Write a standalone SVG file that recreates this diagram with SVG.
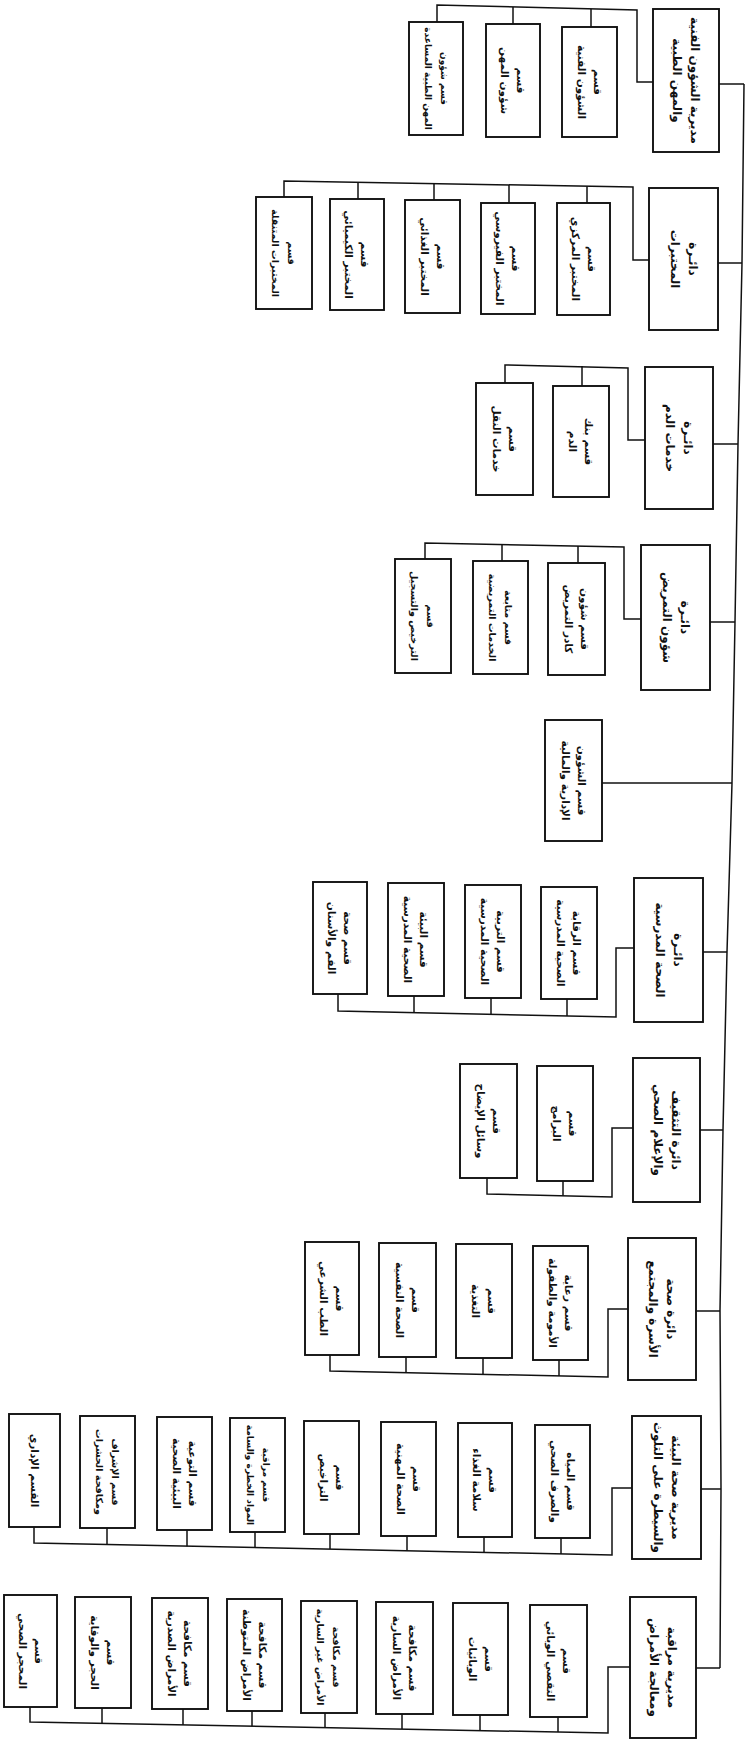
<svg xmlns="http://www.w3.org/2000/svg" width="747" height="1742" viewBox="0 0 747 1742">
<style>
.box{fill:#fff;stroke:#111;stroke-width:1.9}
.ln{fill:none;stroke:#111;stroke-width:1.5;stroke-linejoin:miter}
.t{font-family:"DejaVu Sans","Noto Sans",sans-serif;font-weight:bold;font-size:10.5px;text-anchor:middle;dominant-baseline:central;fill:#111}
.td{font-size:12px}
.s{font-size:9px}
.m{font-size:9.6px}
</style>
<rect width="747" height="1742" fill="#fff"/>
<g id="connectors">
<polyline class="ln" points="744,84 742,263 738,444 735,622 732,783 727,952 723,1130 720,1311 721,1489 720,1668"/>
<polyline class="ln" points="719,84 744,84"/>
<polyline class="ln" points="653,82 637,82 637,10 437,5 437,22"/>
<polyline class="ln" points="591,8.8 591,27"/>
<polyline class="ln" points="513,7 513,24"/>
<polyline class="ln" points="718,263 742,263"/>
<polyline class="ln" points="649,260 633,260 633,187 284,181 284,197"/>
<polyline class="ln" points="587,186.2 587,203"/>
<polyline class="ln" points="509,184.9 509,203"/>
<polyline class="ln" points="434,183.6 434,200"/>
<polyline class="ln" points="358,182.3 358,199"/>
<polyline class="ln" points="713,444 738,444"/>
<polyline class="ln" points="645,440 628,440 628,368 505,365 505,383"/>
<polyline class="ln" points="582,366.1 582,386"/>
<polyline class="ln" points="710,622 735,622"/>
<polyline class="ln" points="641,619 624,619 624,547 425,543 425,559"/>
<polyline class="ln" points="578,545.9 578,563"/>
<polyline class="ln" points="502,544.5 502,561"/>
<polyline class="ln" points="602,783 732,783"/>
<polyline class="ln" points="703,952 727,952"/>
<polyline class="ln" points="634,948 616,948 616,1017 338,1011 338,994"/>
<polyline class="ln" points="567,1015.9 567,999"/>
<polyline class="ln" points="491,1014.3 491,998"/>
<polyline class="ln" points="414,1012.6 414,996"/>
<polyline class="ln" points="700,1130 723,1130"/>
<polyline class="ln" points="633,1128 612,1128 612,1197 487,1194 487,1178"/>
<polyline class="ln" points="563,1195.8 563,1181"/>
<polyline class="ln" points="696,1311 720,1311"/>
<polyline class="ln" points="628,1309 608,1309 608,1377 330,1371 330,1355"/>
<polyline class="ln" points="559,1375.9 559,1360"/>
<polyline class="ln" points="483,1374.3 483,1358"/>
<polyline class="ln" points="406,1372.6 406,1357"/>
<polyline class="ln" points="701,1489 721,1489"/>
<polyline class="ln" points="632,1488 612,1488 612,1555 34,1543 34,1527"/>
<polyline class="ln" points="561,1553.9 561,1538"/>
<polyline class="ln" points="484,1552.3 484,1537"/>
<polyline class="ln" points="407,1550.7 407,1536"/>
<polyline class="ln" points="330,1549.1 330,1534"/>
<polyline class="ln" points="255,1547.6 255,1532"/>
<polyline class="ln" points="187,1546.2 187,1530"/>
<polyline class="ln" points="107,1544.5 107,1528"/>
<polyline class="ln" points="696,1668 720,1668"/>
<polyline class="ln" points="630,1667 608,1667 608,1733 30,1722 30,1707"/>
<polyline class="ln" points="558,1732 558,1717"/>
<polyline class="ln" points="480,1730.6 480,1715"/>
<polyline class="ln" points="402,1729.1 402,1714"/>
<polyline class="ln" points="325,1727.6 325,1713"/>
<polyline class="ln" points="252,1726.2 252,1711"/>
<polyline class="ln" points="183,1724.9 183,1709"/>
<polyline class="ln" points="102,1723.3 102,1708"/>
</g>

<g id="d1"><rect class="box" x="653" y="9" width="66" height="143"/>
<text class="t td" transform="translate(686,80.5) rotate(90)"><tspan x="0" y="-9">مديرية الشؤون الفنية</tspan><tspan x="0" y="9">والمهن الطبية</tspan></text></g>
<g id="d1a"><rect class="box" x="562" y="27" width="55" height="110"/>
<text class="t" transform="translate(589.5,82) rotate(90)"><tspan x="0" y="-8">قسم</tspan><tspan x="0" y="8">الشؤون الفنية</tspan></text></g>
<g id="d1b"><rect class="box" x="486" y="24" width="54" height="113"/>
<text class="t" transform="translate(513,80.5) rotate(90)"><tspan x="0" y="-8">قسم</tspan><tspan x="0" y="8">شؤون المهن</tspan></text></g>
<g id="d1c"><rect class="box" x="409" y="22" width="54" height="113"/>
<text class="t s" transform="translate(436,78.5) rotate(90)"><tspan x="0" y="-8">قسم شؤون</tspan><tspan x="0" y="8">المهن الطبية المساعدة</tspan></text></g>

<g id="d2"><rect class="box" x="649" y="188" width="69" height="142"/>
<text class="t td" transform="translate(683.5,259) rotate(90)"><tspan x="0" y="-9">دائـرة</tspan><tspan x="0" y="9">المختبرات</tspan></text></g>
<g id="d2a"><rect class="box" x="557" y="203" width="53" height="112"/>
<text class="t" transform="translate(583.5,259) rotate(90)"><tspan x="0" y="-8">قسم</tspan><tspan x="0" y="8">المختبر المركزي</tspan></text></g>
<g id="d2b"><rect class="box" x="481" y="203" width="54" height="111"/>
<text class="t" transform="translate(508,258.5) rotate(90)"><tspan x="0" y="-8">قسم</tspan><tspan x="0" y="8">المختبر الفيروسي</tspan></text></g>
<g id="d2c"><rect class="box" x="405" y="200" width="55" height="113"/>
<text class="t" transform="translate(432.5,256.5) rotate(90)"><tspan x="0" y="-8">قسم</tspan><tspan x="0" y="8">المختبر الغذائي</tspan></text></g>
<g id="d2d"><rect class="box" x="330" y="199" width="54" height="111"/>
<text class="t" transform="translate(357,254.5) rotate(90)"><tspan x="0" y="-8">قسم</tspan><tspan x="0" y="8">المختبر الكيميائي</tspan></text></g>
<g id="d2e"><rect class="box" x="256" y="197" width="56" height="112"/>
<text class="t m" transform="translate(284,253) rotate(90)"><tspan x="0" y="-8">قسم</tspan><tspan x="0" y="8">المختبرات المتنقلة</tspan></text></g>

<g id="d3"><rect class="box" x="645" y="367" width="68" height="142"/>
<text class="t td" transform="translate(679,438) rotate(90)"><tspan x="0" y="-9">دائـرة</tspan><tspan x="0" y="9">خدمات الدم</tspan></text></g>
<g id="d3a"><rect class="box" x="553" y="386" width="56" height="111"/>
<text class="t" transform="translate(581,441.5) rotate(90)"><tspan x="0" y="-8">قسم بنك</tspan><tspan x="0" y="8">الدم</tspan></text></g>
<g id="d3b"><rect class="box" x="476" y="383" width="57" height="112"/>
<text class="t" transform="translate(504.5,439) rotate(90)"><tspan x="0" y="-8">قسم</tspan><tspan x="0" y="8">خدمات النقل</tspan></text></g>

<g id="d4"><rect class="box" x="641" y="545" width="69" height="145"/>
<text class="t td" transform="translate(675.5,617.5) rotate(90)"><tspan x="0" y="-9">دائـرة</tspan><tspan x="0" y="9">شؤون التمريض</tspan></text></g>
<g id="d4a"><rect class="box" x="548" y="563" width="57" height="112"/>
<text class="t" transform="translate(576.5,619) rotate(90)"><tspan x="0" y="-8">قسم شؤون</tspan><tspan x="0" y="8">كادر التمريض</tspan></text></g>
<g id="d4b"><rect class="box" x="473" y="561" width="55" height="113"/>
<text class="t m" transform="translate(500.5,617.5) rotate(90)"><tspan x="0" y="-8">قسم متابعة</tspan><tspan x="0" y="8">الخدمات التمريضية</tspan></text></g>
<g id="d4c"><rect class="box" x="395" y="559" width="56" height="114"/>
<text class="t m" transform="translate(423,616) rotate(90)"><tspan x="0" y="-8">قسم</tspan><tspan x="0" y="8">الترخيص والتسجيل</tspan></text></g>

<g id="d5"><rect class="box" x="545" y="720" width="57" height="121"/>
<text class="t" transform="translate(573.5,780.5) rotate(90)"><tspan x="0" y="-8">قسم الشؤون</tspan><tspan x="0" y="8">الإدارية والمالية</tspan></text></g>

<g id="d6"><rect class="box" x="634" y="878" width="69" height="144"/>
<text class="t td" transform="translate(668.5,950) rotate(90)"><tspan x="0" y="-9">دائـرة</tspan><tspan x="0" y="9">الصحة المدرسية</tspan></text></g>
<g id="d6a"><rect class="box" x="541" y="887" width="56" height="112"/>
<text class="t" transform="translate(569,943) rotate(90)"><tspan x="0" y="-8">قسم الرقابة</tspan><tspan x="0" y="8">الصحية المدرسية</tspan></text></g>
<g id="d6b"><rect class="box" x="465" y="885" width="56" height="113"/>
<text class="t" transform="translate(493,941.5) rotate(90)"><tspan x="0" y="-8">قسم التربية</tspan><tspan x="0" y="8">الصحية المدرسية</tspan></text></g>
<g id="d6c"><rect class="box" x="388" y="883" width="56" height="113"/>
<text class="t" transform="translate(416,939.5) rotate(90)"><tspan x="0" y="-8">قسم البيئة</tspan><tspan x="0" y="8">الصحية المدرسية</tspan></text></g>
<g id="d6d"><rect class="box" x="313" y="882" width="54" height="112"/>
<text class="t" transform="translate(340,938) rotate(90)"><tspan x="0" y="-8">قسم صحة</tspan><tspan x="0" y="8">الفم والأسنان</tspan></text></g>

<g id="d7"><rect class="box" x="633" y="1058" width="67" height="144"/>
<text class="t td" transform="translate(666.5,1130) rotate(90)"><tspan x="0" y="-9">دائرة التثقيف</tspan><tspan x="0" y="9">والإعلام الصحي</tspan></text></g>
<g id="d7a"><rect class="box" x="537" y="1066" width="56" height="115"/>
<text class="t" transform="translate(565,1123.5) rotate(90)"><tspan x="0" y="-8">قسم</tspan><tspan x="0" y="8">البرامج</tspan></text></g>
<g id="d7b"><rect class="box" x="460" y="1064" width="57" height="114"/>
<text class="t" transform="translate(488.5,1121) rotate(90)"><tspan x="0" y="-8">قسم</tspan><tspan x="0" y="8">وسائل الإيضاح</tspan></text></g>

<g id="d8"><rect class="box" x="628" y="1238" width="68" height="142"/>
<text class="t td" transform="translate(662,1309) rotate(90)"><tspan x="0" y="-9">دائرة صحة</tspan><tspan x="0" y="9">الأسرة والمجتمع</tspan></text></g>
<g id="d8a"><rect class="box" x="533" y="1246" width="55" height="114"/>
<text class="t" transform="translate(560.5,1303) rotate(90)"><tspan x="0" y="-8">قسم رعاية</tspan><tspan x="0" y="8">الأمومة والطفولة</tspan></text></g>
<g id="d8b"><rect class="box" x="456" y="1244" width="56" height="114"/>
<text class="t" transform="translate(484,1301) rotate(90)"><tspan x="0" y="-8">قسم</tspan><tspan x="0" y="8">التغذية</tspan></text></g>
<g id="d8c"><rect class="box" x="379" y="1243" width="57" height="114"/>
<text class="t" transform="translate(407.5,1300) rotate(90)"><tspan x="0" y="-8">قسم</tspan><tspan x="0" y="8">الصحة النفسية</tspan></text></g>
<g id="d8d"><rect class="box" x="305" y="1242" width="54" height="113"/>
<text class="t" transform="translate(332,1298.5) rotate(90)"><tspan x="0" y="-8">قسم</tspan><tspan x="0" y="8">الطب الشرعي</tspan></text></g>

<g id="d9"><rect class="box" x="632" y="1416" width="69" height="143"/>
<text class="t td" transform="translate(666.5,1487.5) rotate(90)"><tspan x="0" y="-9">مديرية صحة البيئة</tspan><tspan x="0" y="9">والسيطرة على التلوث</tspan></text></g>
<g id="d9a"><rect class="box" x="535" y="1425" width="55" height="113"/>
<text class="t" transform="translate(562.5,1481.5) rotate(90)"><tspan x="0" y="-8">قسم المياه</tspan><tspan x="0" y="8">والصرف الصحي</tspan></text></g>
<g id="d9b"><rect class="box" x="458" y="1423" width="54" height="114"/>
<text class="t" transform="translate(485,1480) rotate(90)"><tspan x="0" y="-8">قسم</tspan><tspan x="0" y="8">سلامة الغذاء</tspan></text></g>
<g id="d9c"><rect class="box" x="381" y="1422" width="55" height="114"/>
<text class="t" transform="translate(408.5,1479) rotate(90)"><tspan x="0" y="-8">قسم</tspan><tspan x="0" y="8">الصحة المهنية</tspan></text></g>
<g id="d9d"><rect class="box" x="304" y="1421" width="55" height="113"/>
<text class="t" transform="translate(331.5,1477.5) rotate(90)"><tspan x="0" y="-8">قسم</tspan><tspan x="0" y="8">التراخيص</tspan></text></g>
<g id="d9e"><rect class="box" x="230" y="1418" width="55" height="114"/>
<text class="t s" transform="translate(257.5,1475) rotate(90)"><tspan x="0" y="-8">قسم مراقبة</tspan><tspan x="0" y="8">المواد الخطرة والسامة</tspan></text></g>
<g id="d9f"><rect class="box" x="157" y="1417" width="55" height="113"/>
<text class="t" transform="translate(184.5,1473.5) rotate(90)"><tspan x="0" y="-8">قسم التوعية</tspan><tspan x="0" y="8">البيئية الصحية</tspan></text></g>
<g id="d9g"><rect class="box" x="80" y="1416" width="55" height="112"/>
<text class="t m" transform="translate(107.5,1472) rotate(90)"><tspan x="0" y="-8">قسم الإشراف</tspan><tspan x="0" y="8">ومكافحة الحشرات</tspan></text></g>
<g id="d9h"><rect class="box" x="9" y="1414" width="51" height="113"/>
<text class="t" transform="translate(34.5,1470.5) rotate(90)"><tspan x="0" y="0">القسم الإداري</tspan></text></g>

<g id="d10"><rect class="box" x="630" y="1597" width="66" height="141"/>
<text class="t td" transform="translate(663,1667.5) rotate(90)"><tspan x="0" y="-9">مديرية مراقبة</tspan><tspan x="0" y="9">ومعالجة الأمراض</tspan></text></g>
<g id="d10a"><rect class="box" x="530" y="1605" width="57" height="112"/>
<text class="t" transform="translate(558.5,1661) rotate(90)"><tspan x="0" y="-8">قسم</tspan><tspan x="0" y="8">التقصي الوبائي</tspan></text></g>
<g id="d10b"><rect class="box" x="453" y="1603" width="55" height="112"/>
<text class="t" transform="translate(480.5,1659) rotate(90)"><tspan x="0" y="-8">قسم</tspan><tspan x="0" y="8">الوبائيات</tspan></text></g>
<g id="d10c"><rect class="box" x="376" y="1602" width="57" height="112"/>
<text class="t" transform="translate(404.5,1658) rotate(90)"><tspan x="0" y="-8">قسم مكافحة</tspan><tspan x="0" y="8">الأمراض السارية</tspan></text></g>
<g id="d10d"><rect class="box" x="301" y="1601" width="56" height="112"/>
<text class="t m" transform="translate(329,1657) rotate(90)"><tspan x="0" y="-8">قسم مكافحة</tspan><tspan x="0" y="8">الأمراض غير السارية</tspan></text></g>
<g id="d10e"><rect class="box" x="227" y="1599" width="55" height="112"/>
<text class="t" transform="translate(254.5,1655) rotate(90)"><tspan x="0" y="-8">قسم مكافحة</tspan><tspan x="0" y="8">الأمراض المتوطنة</tspan></text></g>
<g id="d10f"><rect class="box" x="152" y="1598" width="56" height="111"/>
<text class="t" transform="translate(180,1653.5) rotate(90)"><tspan x="0" y="-8">قسم مكافحة</tspan><tspan x="0" y="8">الأمراض الصدرية</tspan></text></g>
<g id="d10g"><rect class="box" x="75" y="1597" width="56" height="111"/>
<text class="t" transform="translate(103,1652.5) rotate(90)"><tspan x="0" y="-8">قسم</tspan><tspan x="0" y="8">الحجر والوقاية</tspan></text></g>
<g id="d10h"><rect class="box" x="4" y="1595" width="53" height="112"/>
<text class="t" transform="translate(30.5,1651) rotate(90)"><tspan x="0" y="-8">قسم</tspan><tspan x="0" y="8">المحجر الصحي</tspan></text></g>
</svg>
